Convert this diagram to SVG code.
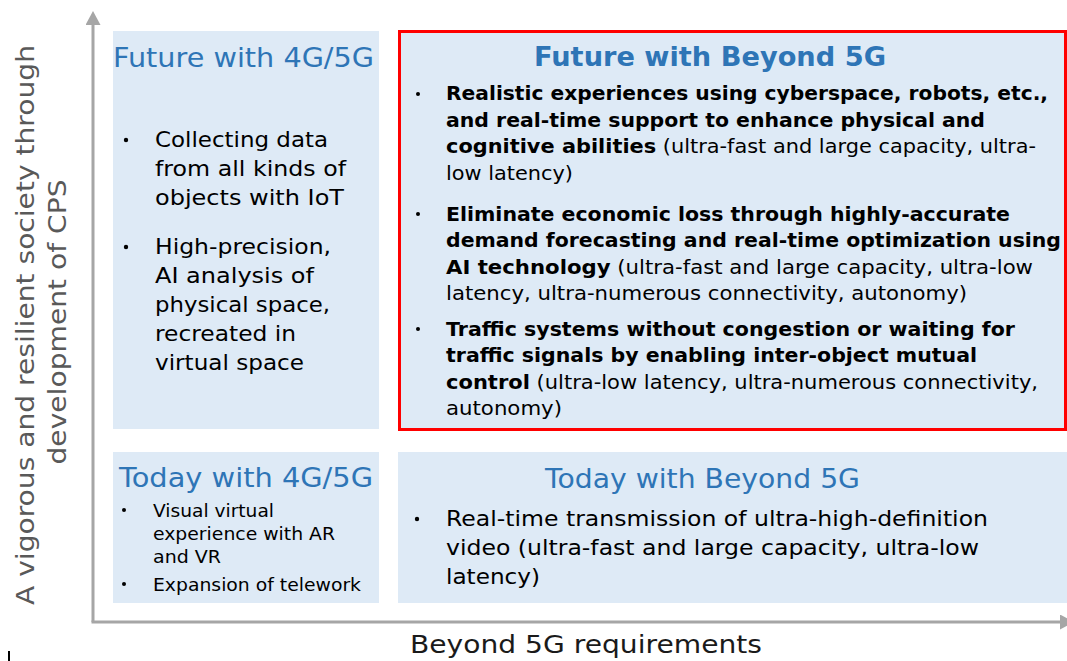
<svg xmlns="http://www.w3.org/2000/svg" width="1067" height="661" viewBox="0 0 1067 661">
<style>
text{font-family:"DejaVu Sans","Verdana","Liberation Sans",sans-serif;}
.box{fill:#DEEAF6;}
.ttl{fill:#2E75B6;font-size:27px;}
.b{font-weight:bold;}
.t22{font-size:22px;fill:#000;}
.t19{font-size:19px;fill:#000;}
.t18{font-size:18px;fill:#000;}
.t21{font-size:21px;fill:#000;}
.ax{stroke:#A6A6A6;stroke-width:3;fill:none;}
.lbl{font-size:25px;fill:#595959;}
</style>
<defs>
<marker id="ah" viewBox="0 0 14 15" refX="0" refY="7.5" markerWidth="14" markerHeight="15" markerUnits="userSpaceOnUse" orient="auto">
<path d="M0,0 L14,7.5 L0,15 z" fill="#A6A6A6"/>
</marker>
</defs>
<rect width="1067" height="661" fill="#FFFFFF"/>

<g id="connectors">
<path class="ax" d="M93,622 L93,25" marker-end="url(#ah)"/>
<path class="ax" d="M91.5,622 L1060,622" marker-end="url(#ah)"/>
</g>

<g id="axis-y-label">
<text class="lbl" text-anchor="middle" transform="translate(34,325) rotate(-90)" textLength="560" lengthAdjust="spacingAndGlyphs">A vigorous and resilient society through</text>
<text class="lbl" text-anchor="middle" transform="translate(66,322) rotate(-90)" textLength="285" lengthAdjust="spacingAndGlyphs">development of CPS</text>
</g>

<g id="axis-x-label">
<text x="586" y="653" text-anchor="middle" font-size="25" fill="#1A1A1A" textLength="352" lengthAdjust="spacingAndGlyphs">Beyond 5G requirements</text>
</g>

<g id="future-4g5g">
<rect class="box" x="113" y="31" width="266" height="398"/>
<text class="ttl" x="113" y="67" textLength="261" lengthAdjust="spacingAndGlyphs">Future with 4G/5G</text>
<circle cx="126" cy="140" r="2.2" fill="#000"/>
<text class="t22" x="155" y="147" textLength="173" lengthAdjust="spacingAndGlyphs">Collecting data</text>
<text class="t22" x="155" y="176" textLength="191" lengthAdjust="spacingAndGlyphs">from all kinds of</text>
<text class="t22" x="155" y="205" textLength="189" lengthAdjust="spacingAndGlyphs">objects with IoT</text>
<circle cx="126" cy="247" r="2.2" fill="#000"/>
<text class="t22" x="155" y="254" textLength="176" lengthAdjust="spacingAndGlyphs">High-precision,</text>
<text class="t22" x="155" y="283" textLength="159" lengthAdjust="spacingAndGlyphs">AI analysis of</text>
<text class="t22" x="155" y="312" textLength="175" lengthAdjust="spacingAndGlyphs">physical space,</text>
<text class="t22" x="155" y="341" textLength="141" lengthAdjust="spacingAndGlyphs">recreated in</text>
<text class="t22" x="155" y="370" textLength="149" lengthAdjust="spacingAndGlyphs">virtual space</text>
</g>

<g id="future-beyond5g">
<rect class="box" x="399.5" y="31.5" width="666" height="398" stroke="#FF0000" stroke-width="3"/>
<text class="ttl b" x="710" y="66" text-anchor="middle" font-size="26" textLength="352" lengthAdjust="spacingAndGlyphs">Future with Beyond 5G</text>
<circle cx="418" cy="94" r="2" fill="#000"/>
<text class="t19 b" x="446" y="100" textLength="602" lengthAdjust="spacingAndGlyphs">Realistic experiences using cyberspace, robots, etc.,</text>
<text class="t19 b" x="446" y="126.5" textLength="539" lengthAdjust="spacingAndGlyphs">and real-time support to enhance physical and</text>
<text class="t19" x="446" y="153" textLength="590" lengthAdjust="spacingAndGlyphs"><tspan class="b">cognitive abilities</tspan> (ultra-fast and large capacity, ultra-</text>
<text class="t19" x="446" y="179.5" textLength="127" lengthAdjust="spacingAndGlyphs">low latency)</text>
<circle cx="418" cy="214" r="2" fill="#000"/>
<text class="t19 b" x="446" y="220.5" textLength="564" lengthAdjust="spacingAndGlyphs">Eliminate economic loss through highly-accurate</text>
<text class="t19 b" x="446" y="247" textLength="615" lengthAdjust="spacingAndGlyphs">demand forecasting and real-time optimization using</text>
<text class="t19" x="446" y="273.5" textLength="587" lengthAdjust="spacingAndGlyphs"><tspan class="b">AI technology</tspan> (ultra-fast and large capacity, ultra-low</text>
<text class="t19" x="446" y="300" textLength="521" lengthAdjust="spacingAndGlyphs">latency, ultra-numerous connectivity, autonomy)</text>
<circle cx="418" cy="329" r="2" fill="#000"/>
<text class="t19 b" x="446" y="335.5" textLength="569" lengthAdjust="spacingAndGlyphs">Traffic systems without congestion or waiting for</text>
<text class="t19 b" x="446" y="362" textLength="531" lengthAdjust="spacingAndGlyphs">traffic signals by enabling inter-object mutual</text>
<text class="t19" x="446" y="388.5" textLength="592" lengthAdjust="spacingAndGlyphs"><tspan class="b">control</tspan> (ultra-low latency, ultra-numerous connectivity,</text>
<text class="t19" x="446" y="415" textLength="116" lengthAdjust="spacingAndGlyphs">autonomy)</text>
</g>

<g id="today-4g5g">
<rect class="box" x="113" y="452" width="266" height="151"/>
<text class="ttl" x="119" y="487" textLength="254" lengthAdjust="spacingAndGlyphs">Today with 4G/5G</text>
<circle cx="124" cy="510" r="2" fill="#000"/>
<text class="t18" x="153" y="516.5" textLength="121" lengthAdjust="spacingAndGlyphs">Visual virtual</text>
<text class="t18" x="153" y="539.5" textLength="182" lengthAdjust="spacingAndGlyphs">experience with AR</text>
<text class="t18" x="153" y="562.5" textLength="68" lengthAdjust="spacingAndGlyphs">and VR</text>
<circle cx="124" cy="584" r="2" fill="#000"/>
<text class="t18" x="153" y="590.5" textLength="208" lengthAdjust="spacingAndGlyphs">Expansion of telework</text>
</g>

<g id="today-beyond5g">
<rect class="box" x="398" y="452" width="669" height="151"/>
<text class="ttl" x="545" y="488" textLength="315" lengthAdjust="spacingAndGlyphs">Today with Beyond 5G</text>
<circle cx="417" cy="519" r="2.2" fill="#000"/>
<text class="t21" x="446" y="526" textLength="542" lengthAdjust="spacingAndGlyphs">Real-time transmission of ultra-high-definition</text>
<text class="t21" x="446" y="555" textLength="533" lengthAdjust="spacingAndGlyphs">video (ultra-fast and large capacity, ultra-low</text>
<text class="t21" x="446" y="584" textLength="94" lengthAdjust="spacingAndGlyphs">latency)</text>
</g>

<line x1="9" y1="651" x2="9" y2="661" stroke="#000" stroke-width="2"/>
</svg>
